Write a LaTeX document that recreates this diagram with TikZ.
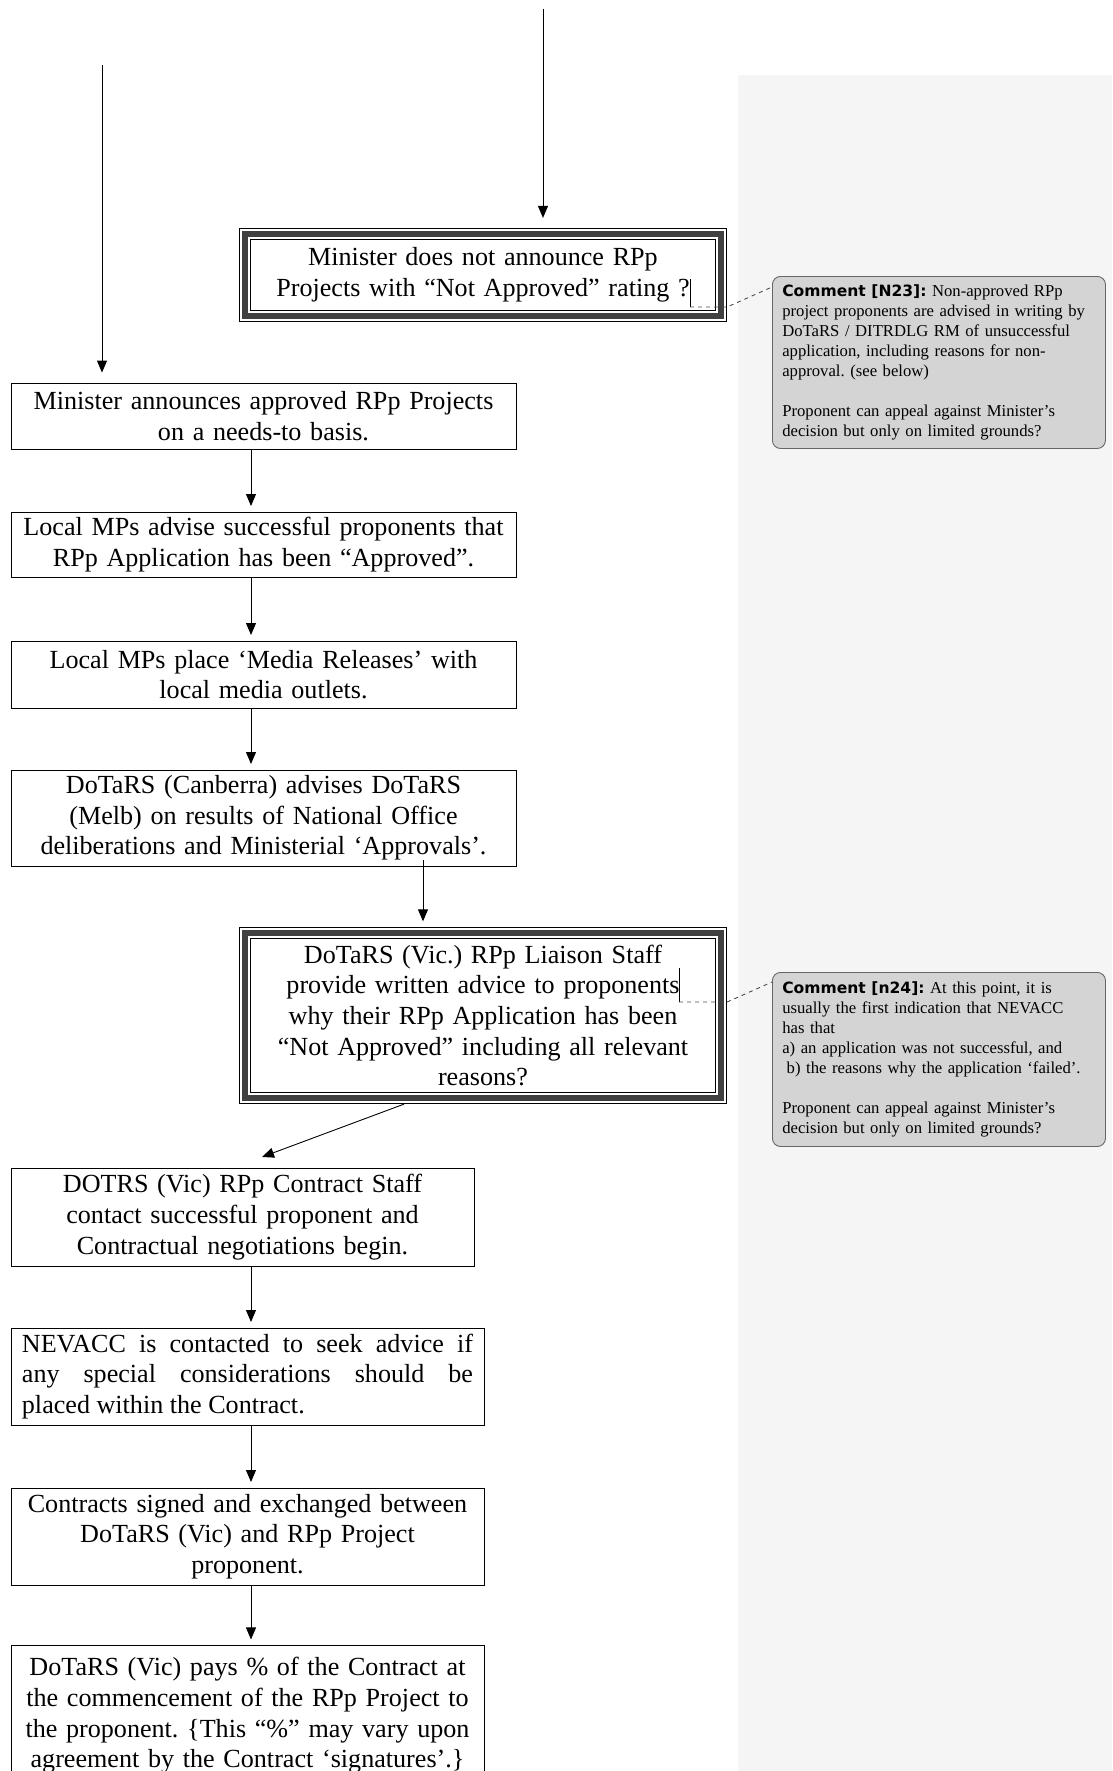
\documentclass[tikz,border=0pt]{standalone}
\usepackage{fontspec}
\setmainfont{Liberation Serif}
\newfontfamily\tagfont{DejaVu Sans}
\usetikzlibrary{arrows.meta,calc}
\frenchspacing
\newcommand{\cmtag}[1]{{\tagfont\bfseries\fontsize{7pt}{9pt}\selectfont Comment [#1]:}}

\begin{document}
\begin{tikzpicture}[
  x=0.45pt, y=-0.45pt,
  stage/.style={draw, thin, align=center, inner xsep=1.5pt, inner ysep=2pt,
    text width=224pt, minimum width=227.25pt,
    font=\fontsize{11.75pt}{13.8pt}\selectfont},
  query/.style={stage, draw=black!75, line width=2.6pt, outer sep=2.75pt,
    text width=200pt, minimum width=214.2pt,
    preaction={draw=black, line width=0.45pt, double=white, double distance=4.6pt}},
  note/.style={draw=black!60, fill=black!17, thin, rounded corners=3.6pt,
    anchor=north west, align=left, inner xsep=4pt,
    text width=141pt, minimum width=149.85pt,
    font=\fontsize{7.5pt}{9pt}\selectfont},
  flow/.style={-{Triangle[length=5.4pt,width=4.5pt]}, thin, shorten >=2.5pt},
  notelink/.style={thin, black!70, dash pattern=on 1.8pt off 1.8pt},
]
\useasboundingbox (0,0) rectangle (1112,1771);
\fill[black!4] (738,75) rectangle (1112,1771);

\node[query, minimum height=36.9pt] (nna) at (483,275)
  {Minister does not announce RPp\\Projects with “Not Approved” rating ?};
\node[stage, minimum height=29.7pt] (nnb) at (263.5,416)
  {Minister announces approved RPp Projects\\on a needs-to basis.};
\node[stage, minimum height=29.25pt] (nnc) at (263.5,544.5)
  {Local MPs advise successful proponents that\\RPp Application has been “Approved”.};
\node[stage, minimum height=30.15pt] (nnd) at (263.5,674.5)
  {Local MPs place ‘Media Releases’ with\\local media outlets.};
\node[stage, minimum height=43.2pt] (nne) at (263.5,818)
  {DoTaRS (Canberra) advises DoTaRS\\(Melb) on results of National Office\\deliberations and Ministerial ‘Approvals’.};
\node[query, minimum height=74.25pt] (nnf) at (483,1015.5)
  {DoTaRS (Vic.) RPp Liaison Staff\\provide written advice to proponents\\why their RPp Application has been\\“Not Approved” including all relevant\\reasons?};
\node[stage, text width=204pt, minimum width=208.35pt, minimum height=44.1pt] (nng) at (242.5,1217)
  {DOTRS (Vic) RPp Contract Staff\\contact successful proponent and\\Contractual negotiations begin.};
\node[stage, align=justify, inner xsep=4.9pt, text width=203pt, minimum width=212.85pt, minimum height=43.65pt] (nnh) at (247.5,1376.5)
  {NEVACC is contacted to seek advice if\linebreak any special considerations should be\linebreak placed within the Contract.};
\node[stage, text width=209pt, minimum width=212.85pt, minimum height=43.65pt] (nni) at (247.5,1536.5)
  {Contracts signed and exchanged between\\DoTaRS (Vic) and RPp Project\\proponent.};
\node[stage, anchor=north, text width=209pt, minimum width=212.85pt, minimum height=63pt] (nnj) at (247.5,1645)
  {DoTaRS (Vic) pays \% of the Contract at\\the commencement of the RPp Project to\\the proponent. \{This “\%” may vary upon\\agreement by the Contract ‘signatures’.\}};

\node[note, minimum height=77.4pt] (cmA) at (772,276)
  {\cmtag{N23} Non-approved RPp\\project proponents are advised in writing by\\DoTaRS / DITRDLG RM of unsuccessful\\application, including reasons for non-\\approval. (see below)\\[9pt]Proponent can appeal against Minister’s\\decision but only on limited grounds?};
\node[note, minimum height=78.3pt] (cmF) at (772,972)
  {\cmtag{n24} At this point, it is\\usually the first indication that NEVACC\\has that\\a) an application was not successful, and\\\hspace*{2pt}b) the reasons why the application ‘failed’.\\[9pt]Proponent can appeal against Minister’s\\decision but only on limited grounds?};

\coordinate (inA) at (543,9);
\coordinate (inB) at (102,65);
\coordinate (spine) at (251,0);
\coordinate (fromE) at (423,860);
\coordinate (fromF) at (404,0);
\coordinate (toG) at (262,1157);
\coordinate (caretA) at (690,307);
\coordinate (caretF) at (679,1002);

\draw[flow, shorten >=4.5pt] (inA) -- (inA |- nna.north);
\draw[flow, shorten >=4.5pt] (inB) -- (inB |- nnb.north);
\draw[flow] (nnb.south -| spine) -- (nnc.north -| spine);
\draw[flow] (nnc.south -| spine) -- (nnd.north -| spine);
\draw[flow] (nnd.south -| spine) -- (nne.north -| spine);
\draw[flow] (fromE) -- (fromE |- nnf.north);
\draw[flow, shorten >=0pt] (nnf.south -| fromF) -- (toG);
\draw[flow] (nng.south -| spine) -- (nnh.north -| spine);
\draw[flow] (nnh.south -| spine) -- (nni.north -| spine);
\draw[flow] (nni.south -| spine) -- (nnj.north -| spine);

\draw[thin] (caretA) -- ++(0,-28);
\draw[thin] (caretF) -- ++(0,-34);
\draw[notelink] (caretA) -- (caretA -| nna.east) -- ($(cmA.north west)+(0,11)$);
\draw[notelink] (caretF) -- (caretF -| nnf.east) -- ($(cmF.north west)+(0,10)$);
\end{tikzpicture}
\end{document}
